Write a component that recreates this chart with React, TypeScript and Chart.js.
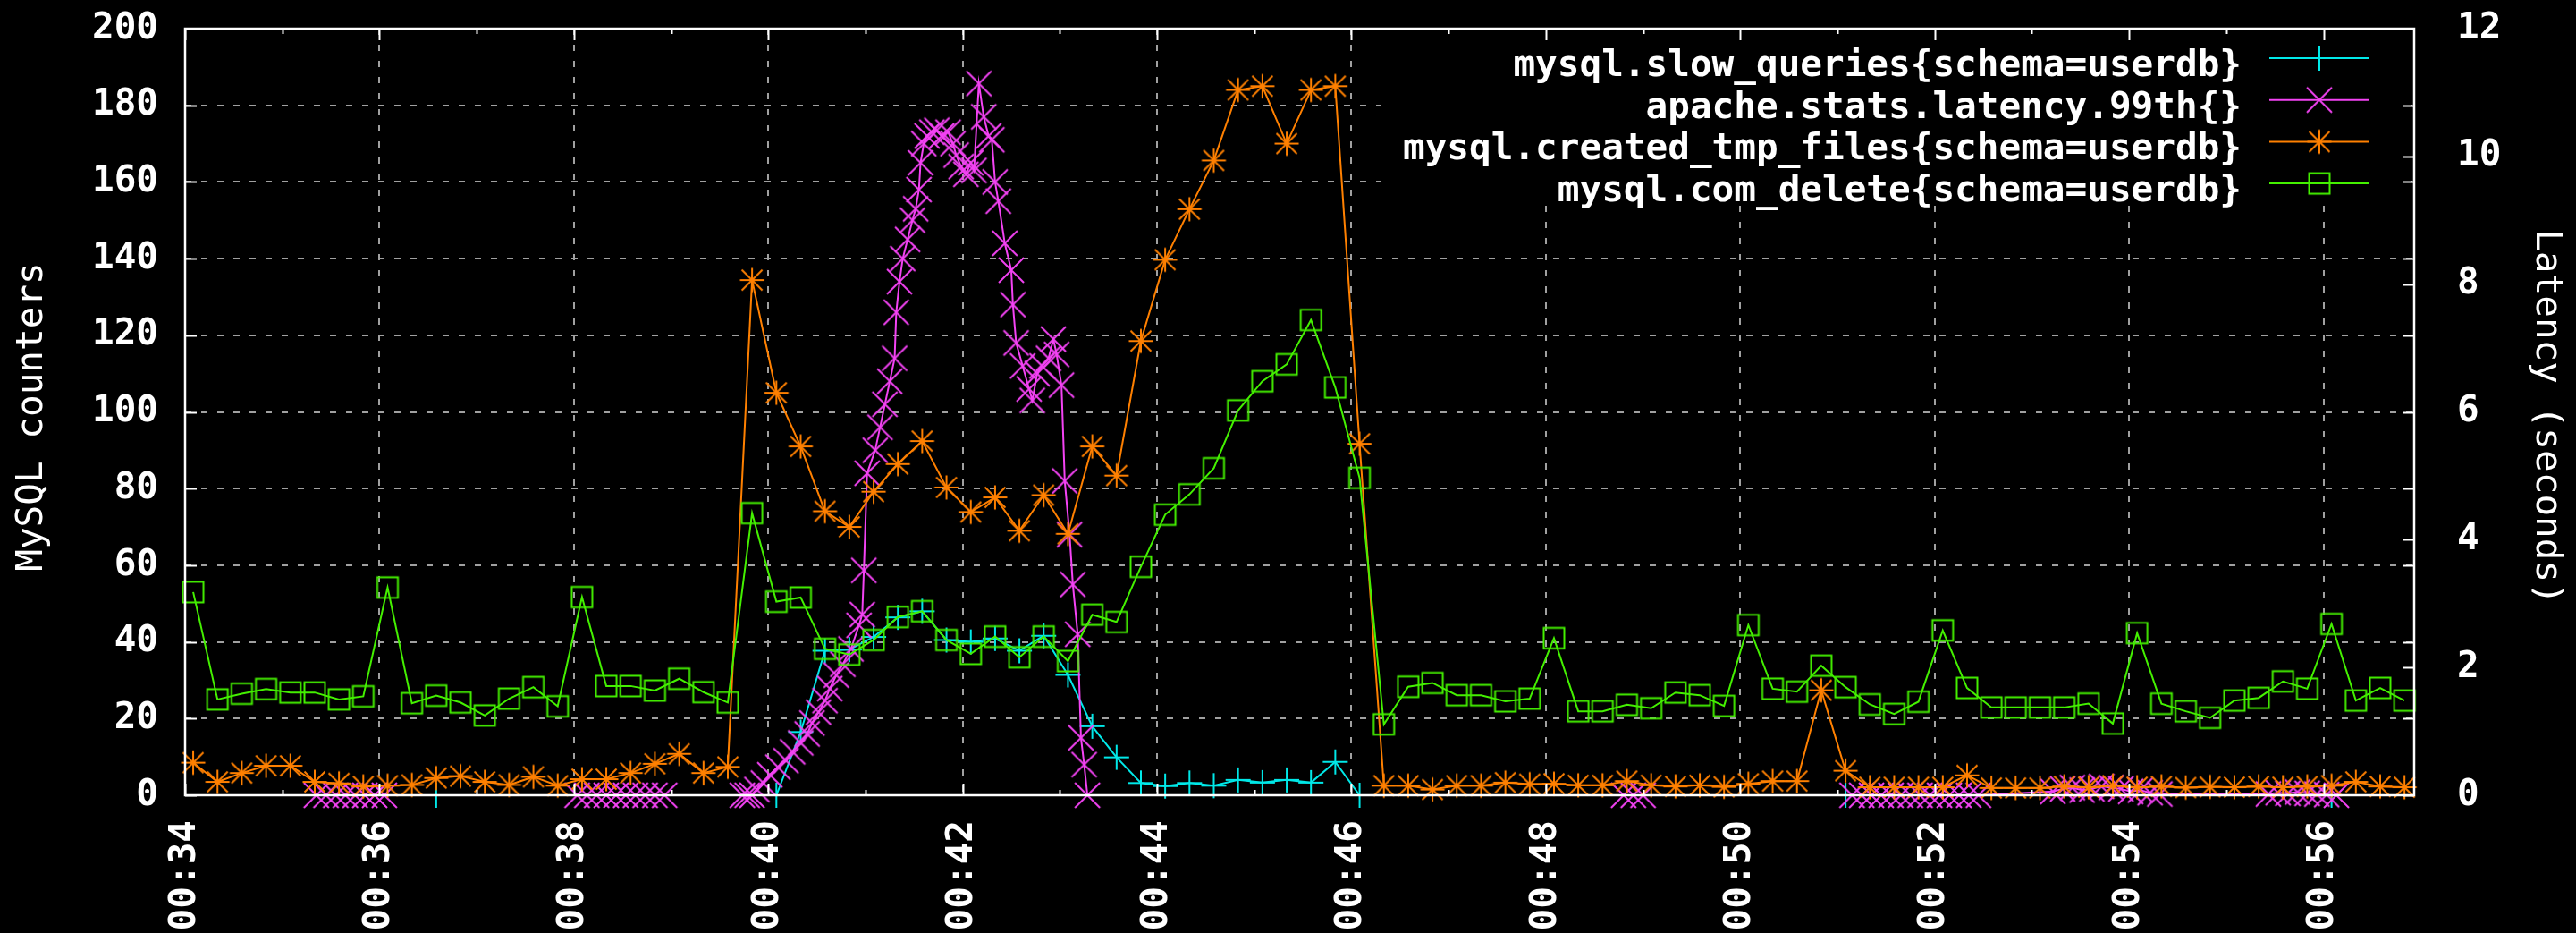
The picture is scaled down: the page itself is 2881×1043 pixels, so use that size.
import React, { useEffect, useRef } from 'react';
import { Chart, registerables } from 'chart.js';

Chart.register(...registerables);

// ---------- axis ranges / ticks (time in seconds after 00:00:00) ----------
const X_MIN = 2040; // 00:34:00
const X_MAX = 3416; // 00:56:56
const SAMPLE_START = 2045; // first 15-second sample (00:34:05)
const SAMPLE_STEP = 15;
const xTickValues = [2040, 2160, 2280, 2400, 2520, 2640, 2760, 2880, 3000, 3120, 3240, 3360];
const xMinorTickValues = [2100, 2220, 2340, 2460, 2580, 2700, 2820, 2940, 3060, 3180, 3300];
const leftTickValues = [0, 20, 40, 60, 80, 100, 120, 140, 160, 180, 200];
const rightTickValues = [0, 2, 4, 6, 8, 10, 12];

const seriesLabels = [
  'mysql.slow_queries{schema=userdb}',
  'apache.stats.latency.99th{}',
  'mysql.created_tmp_files{schema=userdb}',
  'mysql.com_delete{schema=userdb}',
];
const leftAxisTitle = 'MySQL counters';
const rightAxisTitle = 'Latency (seconds)';

// ---------- data ----------
// mysql.com_delete, one value per 15 s sample
const comDelete = [
  53, 25, 26.5, 27.7, 26.8, 26.8, 25, 25.8, 54.2, 24,
  26, 24.2, 20.8, 25.2, 28.2, 23.2, 51.7, 28.5, 28.5, 27.3,
  30.4, 26.9, 24.2, 73.6, 50.5, 51.6, 38.2, 36.7, 40.5, 46.5,
  48, 40.5, 36.9, 41.4, 36, 41.4, 35, 47.1, 45.2, 59.6,
  73.2, 78.5, 85.3, 100.4, 108, 112.4, 124, 106.4, 82.8, 18.5,
  28.3, 29.3, 26.1, 26.1, 24.5, 25.2, 41, 21.9, 21.9, 23.6,
  22.7, 26.8, 26.1, 23.3, 44.4, 27.8, 27, 33.8, 28.2, 23.7,
  21.2, 24.4, 43, 28, 22.9, 22.9, 22.9, 22.9, 23.9, 18.7,
  42.3, 23.9, 21.9, 20.2, 24.7, 25.4, 29.7, 27.8, 44.7, 24.7,
  28, 24.7,
];

// mysql.created_tmp_files, one value per 15 s sample
const createdTmpFiles = [
  8.5, 3.5, 5.8, 7.7, 7.7, 3.5, 3.1, 2.3, 2.5, 2.7,
  4.5, 5, 3.5, 2.7, 4.8, 2.5, 4.2, 4.2, 5.8, 8.2,
  10.8, 5.8, 7.4, 134.4, 105, 91, 74.1, 70, 79.2, 86.4,
  92.4, 80.3, 73.9, 77.7, 69, 78.3, 68.2, 91, 83.4, 118.5,
  139.7, 152.9, 165.6, 184, 185, 170, 184, 185, 91.7, 2.5,
  2.5, 1.5, 2.5, 2.5, 3.3, 2.9, 3, 2.6, 2.6, 3.7,
  2.6, 2.3, 2.6, 2.2, 3, 3.7, 3.7, 27.4, 6.4, 2.1,
  2.1, 2.1, 2.1, 5.2, 1.9, 1.9, 1.9, 2.3, 2.1, 2.5,
  2.1, 2.3, 2, 2.2, 2.1, 2.3, 2.1, 2.3, 2.5, 3.5,
  2.3, 2.1,
];

// mysql.slow_queries: [time (s), value]
const slowQueries: [number, number][] = [
  [2195, 0],
  [2405, 0], [2420, 16.5], [2435, 37.7], [2450, 38], [2465, 41.3], [2480, 46.4],
  [2495, 48], [2510, 40.5], [2525, 40], [2540, 40.9], [2555, 37.7], [2570, 41.6],
  [2585, 31.4], [2600, 18], [2615, 9.9], [2630, 3.2], [2645, 2.4], [2660, 3.2],
  [2675, 2.5], [2690, 4], [2705, 3.3], [2720, 4], [2735, 3.3], [2750, 8.7], [2765, 0],
  [3065, 0], [3365, 0],
];

// apache.stats.latency.99th: [time (s), latency (seconds)]
const latency99th: [number, number][] = [
  [2121, 0], [2127, 0], [2133, 0], [2139, 0], [2145, 0], [2151, 0], [2157, 0], [2163, 0],
  [2282, 0], [2288, 0], [2294, 0], [2300, 0], [2306, 0], [2312, 0], [2318, 0], [2324, 0], [2330, 0], [2336, 0],
  [2384, 0], [2387, 0], [2390, 0], [2393, 0.09], [2397, 0.19], [2401, 0.32], [2406, 0.44], [2411, 0.54],
  [2415, 0.68], [2420, 0.82], [2424, 0.96], [2427, 1.13], [2431, 1.3], [2435, 1.48], [2438, 1.67],
  [2442, 1.88], [2446, 2.05], [2451, 2.29], [2456, 2.66], [2458, 2.83], [2459, 3.52], [2461, 5.04],
  [2466, 5.4], [2469, 5.76], [2472, 6.12], [2475, 6.48], [2478, 6.84], [2479, 7.56], [2481, 8.04],
  [2483, 8.4], [2486, 8.7], [2489, 9.0], [2491, 9.18], [2493, 9.48], [2494, 9.9], [2496, 10.2],
  [2498, 10.32], [2501, 10.38], [2504, 10.41], [2507, 10.32], [2511, 10.38], [2514, 10.2], [2516, 10.02],
  [2519, 9.84], [2522, 9.72], [2525, 9.9], [2527, 9.78], [2530, 11.14], [2533, 10.62], [2536, 10.32],
  [2538, 10.26], [2540, 9.6], [2542, 9.3], [2546, 8.64], [2550, 8.22], [2551, 7.68], [2553, 7.08],
  [2557, 6.72], [2561, 6.36], [2563, 6.18], [2566, 6.6], [2569, 6.72], [2573, 6.84], [2576, 7.14],
  [2578, 6.9], [2581, 6.42], [2583, 4.92], [2586, 4.08], [2588, 3.3], [2591, 2.52], [2593, 0.9],
  [2595, 0.48], [2597, 0],
  [2928, 0], [2934, 0], [2940, 0],
  [3069, 0], [3075, 0], [3081, 0], [3087, 0], [3093, 0], [3099, 0], [3105, 0], [3111, 0],
  [3117, 0], [3123, 0], [3129, 0], [3135, 0], [3141, 0], [3147, 0],
  [3193, 0.06], [3199, 0.1], [3205, 0.12], [3211, 0.08], [3217, 0.1], [3223, 0.14], [3229, 0.12],
  [3235, 0.1], [3241, 0.06], [3247, 0.08], [3253, 0.04], [3259, 0.02],
  [3326, 0.02], [3332, 0.04], [3338, 0.03], [3344, 0.05], [3350, 0.03], [3356, 0.02], [3362, 0.01], [3368, 0],
];

// ---------- styles ----------
const W = 2881;
const H = 1043;
const FONT = '"DejaVu Sans Mono", monospace';
const COLORS = {
  slow: '#00e8e8',
  latency: '#f443f4',
  tmp: '#ff8000',
  del: '#44f000',
  grid: '#a0a0a0',
  text: '#ffffff',
};

type MarkerKind = 'plus' | 'x' | 'star' | 'square';

function makeMarker(kind: MarkerKind, color: string): HTMLCanvasElement {
  const c = document.createElement('canvas');
  const size = 34;
  c.width = size;
  c.height = size;
  const g = c.getContext('2d')!;
  const m = size / 2;
  g.strokeStyle = color;
  g.lineWidth = 2;
  g.beginPath();
  if (kind === 'plus') {
    const h = 14;
    g.moveTo(m - h, m); g.lineTo(m + h, m);
    g.moveTo(m, m - h); g.lineTo(m, m + h);
  } else if (kind === 'x') {
    const h = 14;
    g.moveTo(m - h, m - h); g.lineTo(m + h, m + h);
    g.moveTo(m - h, m + h); g.lineTo(m + h, m - h);
  } else if (kind === 'star') {
    const h = 13.5;
    g.moveTo(m - h, m); g.lineTo(m + h, m);
    g.moveTo(m, m - h); g.lineTo(m, m + h);
    const d = 11.5;
    g.moveTo(m - d, m - d); g.lineTo(m + d, m + d);
    g.moveTo(m - d, m + d); g.lineTo(m + d, m - d);
  } else {
    const s = 11.5;
    g.rect(m - s, m - s, 2 * s, 2 * s);
  }
  g.stroke();
  return c;
}

function fmtTime(v: number): string {
  const m = Math.round(v / 60);
  return '00:' + String(m).padStart(2, '0');
}

const App = () => {
  const ref = useRef<HTMLCanvasElement>(null);

  useEffect(() => {
    document.body.style.margin = '0';
    document.body.style.background = '#000';
    const canvas = ref.current;
    if (!canvas) return;

    const markers = {
      slow: makeMarker('plus', COLORS.slow),
      latency: makeMarker('x', COLORS.latency),
      tmp: makeMarker('star', COLORS.tmp),
      del: makeMarker('square', COLORS.del),
    };

    const legendItems = [
      { label: seriesLabels[0], color: COLORS.slow, marker: markers.slow },
      { label: seriesLabels[1], color: COLORS.latency, marker: markers.latency },
      { label: seriesLabels[2], color: COLORS.tmp, marker: markers.tmp },
      { label: seriesLabels[3], color: COLORS.del, marker: markers.del },
    ];

    const framePlugin = {
      id: 'gnuplotFrame',
      afterDatasetsDraw(chart: any) {
        const { ctx, chartArea: a, scales } = chart;
        const xs = scales.x;
        const ys = scales.y;
        const y1s = scales.y1;
        ctx.save();
        // opaque key box
        ctx.fillStyle = '#000';
        ctx.fillRect(1545, a.top + 2, a.right - 3 - 1545, 194);
        ctx.font = `bold 41px ${FONT}`;
        ctx.textAlign = 'right';
        ctx.textBaseline = 'alphabetic';
        legendItems.forEach((it, i) => {
          const yy = 65 + i * 46.7;
          ctx.fillStyle = COLORS.text;
          ctx.fillText(it.label, 2507, yy + 20);
          ctx.strokeStyle = it.color;
          ctx.lineWidth = 2;
          ctx.beginPath();
          ctx.moveTo(2538, yy);
          ctx.lineTo(2650, yy);
          ctx.stroke();
          ctx.drawImage(it.marker, 2594 - it.marker.width / 2, yy - it.marker.height / 2);
        });

        // tick marks (inward, mirrored)
        ctx.strokeStyle = COLORS.text;
        ctx.lineWidth = 2;
        ctx.beginPath();
        leftTickValues.forEach((v) => {
          const py = Math.round(ys.getPixelForValue(v)) + 0.5;
          ctx.moveTo(a.left, py); ctx.lineTo(a.left + 13, py);
          ctx.moveTo(a.right, py); ctx.lineTo(a.right - 13, py);
        });
        rightTickValues.forEach((v) => {
          const py = Math.round(y1s.getPixelForValue(v)) + 0.5;
          ctx.moveTo(a.right, py); ctx.lineTo(a.right - 13, py);
        });
        xTickValues.forEach((v) => {
          const px = Math.round(xs.getPixelForValue(v)) + 0.5;
          ctx.moveTo(px, a.bottom); ctx.lineTo(px, a.bottom - 13);
          ctx.moveTo(px, a.top); ctx.lineTo(px, a.top + 13);
        });
        xMinorTickValues.forEach((v) => {
          const px = Math.round(xs.getPixelForValue(v)) + 0.5;
          ctx.moveTo(px, a.bottom); ctx.lineTo(px, a.bottom - 6);
          ctx.moveTo(px, a.top); ctx.lineTo(px, a.top + 6);
        });
        ctx.stroke();

        // border (front)
        ctx.lineWidth = 2.5;
        ctx.strokeRect(a.left, a.top, a.right - a.left, a.bottom - a.top);
        ctx.restore();
      },
      afterDraw(chart: any) {
        const { ctx } = chart;
        ctx.save();
        ctx.fillStyle = COLORS.text;
        ctx.font = `41px ${FONT}`;
        ctx.textAlign = 'center';
        ctx.textBaseline = 'alphabetic';
        ctx.save();
        ctx.translate(47, 466);
        ctx.rotate(-Math.PI / 2);
        ctx.fillText(leftAxisTitle, 0, 0);
        ctx.restore();
        ctx.save();
        ctx.translate(2837, 466);
        ctx.rotate(Math.PI / 2);
        ctx.fillText(rightAxisTitle, 0, 0);
        ctx.restore();
        ctx.restore();
      },
    };

    const sampleTimes = comDelete.map((_, i) => SAMPLE_START + i * SAMPLE_STEP);

    const common = {
      borderWidth: 2,
      pointRadius: 15,
      pointBorderWidth: 2,
      fill: false,
      tension: 0,
      clip: false as any,
    };

    const chart = new Chart(canvas, {
      type: 'line',
      data: {
        datasets: [
          {
            ...common,
            label: seriesLabels[0],
            data: slowQueries.map(([t, v]) => ({ x: t, y: v })),
            borderColor: COLORS.slow,
            pointStyle: markers.slow as any,
            yAxisID: 'y',
            order: 3,
          },
          {
            ...common,
            label: seriesLabels[1],
            data: latency99th.map(([t, v]) => ({ x: t, y: v })),
            borderColor: COLORS.latency,
            pointStyle: markers.latency as any,
            yAxisID: 'y1',
            order: 2,
          },
          {
            ...common,
            label: seriesLabels[2],
            data: createdTmpFiles.map((v, i) => ({ x: sampleTimes[i], y: v })),
            borderColor: COLORS.tmp,
            pointStyle: markers.tmp as any,
            yAxisID: 'y',
            order: 1,
          },
          {
            ...common,
            label: seriesLabels[3],
            data: comDelete.map((v, i) => ({ x: sampleTimes[i], y: v })),
            borderColor: COLORS.del,
            pointStyle: markers.del as any,
            yAxisID: 'y',
            order: 0,
          },
        ] as any,
      },
      options: {
        responsive: false,
        animation: false,
        devicePixelRatio: 1,
        events: [],
        layout: { padding: { top: 32, left: 0, right: 0, bottom: 0 } },
        plugins: {
          legend: { display: false },
          tooltip: { enabled: false },
          title: { display: false },
        },
        scales: {
          x: {
            type: 'linear',
            min: X_MIN,
            max: X_MAX,
            afterBuildTicks: (scale: any) => {
              scale.ticks = xTickValues.map((v) => ({ value: v }));
            },
            afterFit: (scale: any) => {
              scale.height = 154;
            },
            ticks: {
              autoSkip: false,
              minRotation: 90,
              maxRotation: 90,
              padding: 0,
              color: COLORS.text,
              font: { family: FONT, size: 41, weight: 'bold' },
              callback: (v: any) => fmtTime(Number(v)),
            },
            grid: {
              color: COLORS.grid,
              lineWidth: 2,
              drawTicks: true,
              tickLength: 28,
              tickColor: 'rgba(0,0,0,0)',
            },
            border: { display: false, dash: [7, 11] },
          },
          y: {
            type: 'linear',
            position: 'left',
            min: 0,
            max: 200,
            afterFit: (scale: any) => {
              scale.width = 207;
            },
            ticks: {
              stepSize: 20,
              padding: 0,
              color: COLORS.text,
              font: { family: FONT, size: 41, weight: 'bold' },
            },
            grid: {
              color: COLORS.grid,
              lineWidth: 2,
              drawTicks: true,
              tickLength: 30,
              tickColor: 'rgba(0,0,0,0)',
            },
            border: { display: false, dash: [7, 11] },
          },
          y1: {
            type: 'linear',
            position: 'right',
            min: 0,
            max: 12,
            afterFit: (scale: any) => {
              scale.width = W - 2700;
            },
            ticks: {
              stepSize: 2,
              padding: 0,
              color: COLORS.text,
              font: { family: FONT, size: 41, weight: 'bold' },
            },
            grid: {
              display: false,
              drawOnChartArea: false,
              drawTicks: true,
              tickLength: 48,
              tickColor: 'rgba(0,0,0,0)',
            },
            border: { display: false },
          },
        },
      } as any,
      plugins: [framePlugin],
    });

    return () => chart.destroy();
  }, []);

  return (
    <div style={{ width: W, height: H, background: '#000', overflow: 'hidden' }}>
      <canvas ref={ref} width={W} height={H} style={{ display: 'block' }} />
    </div>
  );
};

export default App;
